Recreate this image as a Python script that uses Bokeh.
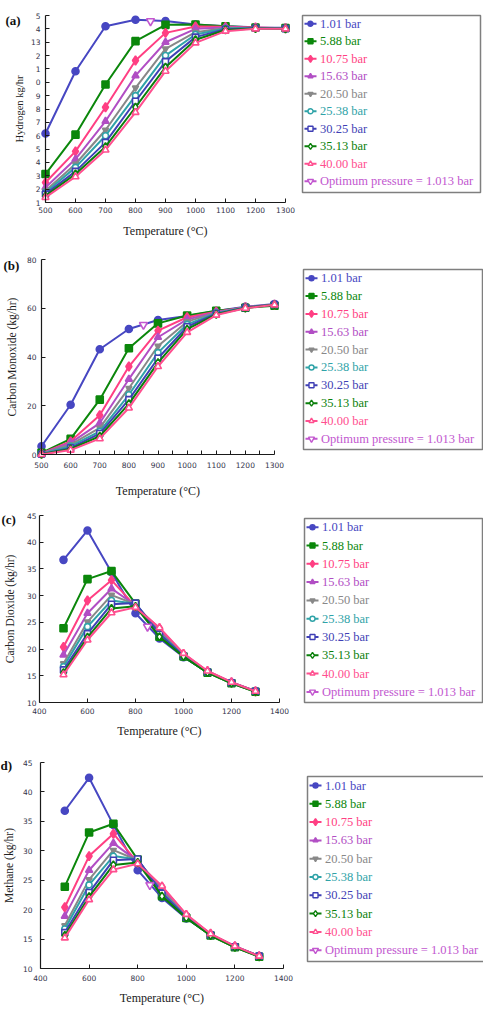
from bokeh.plotting import figure
from bokeh.models import Range1d, FixedTicker, ColumnDataSource
from bokeh.layouts import column, row
from bokeh.embed import file_html
from bokeh.resources import INLINE
from bokeh.core.properties import value

# ---------------------------------------------------------------- data
temps = [500, 600, 700, 800, 900, 1000, 1100, 1200, 1300]

pressure_labels = ["1.01 bar", "5.88 bar", "10.75 bar", "15.63 bar", "20.50 bar",
                   "25.38 bar", "30.25 bar", "35.13 bar", "40.00 bar"]
optimum_label = "Optimum pressure =  1.013 bar"
optimum_temp = 850

# hydrogen, kg/hr (one row per pressure)
hydrogen = [
    [6.17, 10.83, 14.20, 14.68, 14.58, 14.33, 14.20, 14.12, 14.08],
    [3.13, 6.08, 9.83, 13.08, 14.30, 14.33, 14.20, 14.10, 14.06],
    [2.50, 4.83, 8.13, 11.63, 13.70, 14.18, 14.15, 14.10, 14.05],
    [2.13, 4.25, 7.08, 10.50, 13.00, 14.00, 14.10, 14.08, 14.04],
    [1.88, 3.88, 6.43, 9.58, 12.50, 13.75, 14.06, 14.07, 14.03],
    [1.75, 3.63, 6.00, 9.00, 12.00, 13.58, 14.02, 14.06, 14.02],
    [1.63, 3.33, 5.50, 8.58, 11.55, 13.38, 13.97, 14.05, 14.02],
    [1.50, 3.13, 5.18, 8.13, 11.13, 13.18, 13.92, 14.03, 14.01],
    [1.38, 2.93, 4.93, 7.75, 10.83, 12.95, 13.83, 14.00, 14.00],
]
hydrogen_optimum = 14.58

# carbon monoxide, kg/hr
carbon_monoxide = [
    [3.4, 20.4, 43.2, 51.5, 55.2, 56.8, 58.9, 60.6, 61.7],
    [0.7, 6.4, 22.5, 43.6, 53.8, 57.0, 59.0, 60.2, 61.0],
    [0.4, 5.4, 16.1, 36.1, 50.8, 56.3, 58.6, 60.4, 61.5],
    [0.3, 4.8, 12.9, 30.9, 48.1, 55.4, 58.4, 60.4, 61.5],
    [0.2, 4.1, 10.9, 27.2, 44.5, 54.5, 58.2, 60.3, 61.5],
    [0.2, 3.4, 9.5, 24.5, 41.8, 53.4, 58.0, 60.3, 61.5],
    [0.1, 2.7, 8.6, 22.5, 39.5, 52.4, 57.8, 60.2, 61.5],
    [0.1, 2.3, 7.5, 20.8, 37.7, 51.4, 57.5, 60.1, 61.4],
    [0.0, 1.8, 6.5, 19.1, 36.1, 50.1, 57.2, 60.0, 61.4],
]
carbon_monoxide_optimum = 53.2

# carbon dioxide, kg/hr
carbon_dioxide = [
    [36.7, 42.2, 34.4, 26.7, 22.0, 18.5, 15.7, 13.7, 12.1],
    [23.9, 33.1, 34.6, 28.5, 22.3, 18.6, 15.6, 13.6, 12.0],
    [20.4, 29.1, 32.9, 28.0, 23.9, 19.1, 15.9, 13.8, 12.1],
    [18.9, 26.7, 31.3, 28.2, 23.5, 19.0, 15.8, 13.8, 12.1],
    [17.3, 25.1, 30.1, 28.4, 23.2, 18.9, 15.8, 13.7, 12.1],
    [16.7, 24.2, 29.1, 28.5, 22.9, 18.8, 15.7, 13.7, 12.1],
    [16.1, 22.9, 28.4, 28.6, 22.8, 18.7, 15.7, 13.7, 12.1],
    [15.6, 22.2, 27.6, 28.0, 22.3, 18.6, 15.6, 13.6, 12.0],
    [15.2, 21.7, 26.8, 27.8, 24.0, 19.2, 15.9, 13.8, 12.1],
]
carbon_dioxide_optimum = 24.2

# methane, kg/hr
methane = [
    [36.8, 42.4, 34.4, 26.7, 22.0, 18.5, 15.7, 13.7, 12.1],
    [23.9, 33.1, 34.6, 28.5, 22.3, 18.6, 15.6, 13.6, 12.0],
    [20.4, 29.1, 32.9, 28.0, 23.9, 19.1, 15.9, 13.8, 12.1],
    [18.9, 26.7, 31.3, 28.2, 23.5, 19.0, 15.8, 13.8, 12.1],
    [17.3, 25.1, 30.1, 28.4, 23.2, 18.9, 15.8, 13.7, 12.1],
    [16.7, 24.2, 29.1, 28.5, 22.9, 18.8, 15.7, 13.7, 12.1],
    [16.1, 22.9, 28.4, 28.6, 22.8, 18.7, 15.7, 13.7, 12.1],
    [15.6, 22.2, 27.6, 28.0, 22.3, 18.6, 15.6, 13.6, 12.0],
    [15.2, 21.7, 26.8, 27.8, 24.0, 19.2, 15.9, 13.8, 12.1],
]
methane_optimum = 24.2

# ---------------------------------------------------------------- styles
# (colour, marker, filled, size)
series_styles = [
    ("#4747c2", "circle", True, 7),
    ("#0b870b", "square", True, 7),
    ("#ff3f83", "diamond", True, 9),
    ("#b14ec4", "triangle", True, 7),
    ("#888888", "inverted_triangle", True, 6),
    ("#2fa3a8", "circle", False, 6),
    ("#3f3fb5", "square", False, 6),
    ("#0a7f0a", "diamond", False, 8),
    ("#ff4f8f", "triangle", False, 7),
]
optimum_style = ("#c257cf", "inverted_triangle", False, 8)

SERIF = "Liberation Serif, Times New Roman, serif"
SANS = "DejaVu Sans"
MAIN_W = 300
LEG_W = 183


def draw_series(p, xs, ys, style, line=True):
    color, marker, filled, size = style
    if line:
        p.line(xs, ys, line_color=color, line_width=2)
    p.scatter(xs, ys, marker=marker, size=size, line_color=color, line_width=1.6,
              fill_color=color if filled else "white")


def main_panel(h, series, optimum_y, xa, xb, pxa, pxb, ybot, ytop, py_top, py_bot,
               xticks, xminor, yticks, ytitle, ytitle_size, tag, tag_x, tag_y,
               x_lab_std, x_title_std, y_lab_std, y_title_std, yoverrides=None):
    # the plotting frame covers the whole figure; axes sit at fixed data positions
    sx = (pxb - pxa) / (xb - xa)
    sy = (py_bot - py_top) / (ytop - ybot)
    x0 = xa - pxa / sx
    x1 = xb + (MAIN_W - pxb) / sx
    y0 = ybot - (h - py_bot) / sy
    y1 = ytop + py_top / sy

    p = figure(width=MAIN_W, height=h, x_range=Range1d(x0, x1), y_range=Range1d(y0, y1),
               output_backend="svg", toolbar_location=None, min_border=0)
    p.outline_line_color = None
    p.grid.visible = False
    p.background_fill_color = "white"
    p.border_fill_color = "white"

    for ys, style in zip(series, series_styles):
        draw_series(p, temps, ys, style)
    draw_series(p, [optimum_temp], [optimum_y], optimum_style, line=False)

    xa_ = p.xaxis[0]
    xa_.fixed_location = ybot
    xa_.bounds = (xa, xb)
    xa_.ticker = FixedTicker(ticks=xticks, minor_ticks=xminor)
    xa_.axis_label = "Temperature (°C)"
    xa_.major_label_standoff = x_lab_std
    xa_.axis_label_standoff = x_title_std

    ya_ = p.yaxis[0]
    ya_.fixed_location = xa
    ya_.bounds = (ybot, ytop)
    ya_.ticker = FixedTicker(ticks=yticks)
    ya_.axis_label = ytitle
    ya_.major_label_standoff = y_lab_std
    ya_.axis_label_standoff = y_title_std
    if yoverrides:
        ya_.major_label_overrides = yoverrides

    for ax, tsize in ((xa_, "12px"), (ya_, ytitle_size)):
        ax.axis_line_color = "#1a1a1a"
        ax.axis_line_width = 1.2
        ax.major_tick_line_color = "#1a1a1a"
        ax.minor_tick_line_color = "#1a1a1a"
        ax.major_tick_in = 4
        ax.major_tick_out = 0
        ax.minor_tick_in = 4
        ax.minor_tick_out = 0
        ax.major_label_text_font = SANS
        ax.major_label_text_font_size = "7.5px"
        ax.major_label_text_color = "#33334a"
        ax.axis_label_text_font = SERIF
        ax.axis_label_text_font_style = "normal"
        ax.axis_label_text_font_size = tsize
        ax.axis_label_text_color = "#222222"

    # panel tag, positioned in data space left of the y axis
    tx = x0 + tag_x / sx
    ty = y1 - tag_y / sy
    p.text(x=[tx], y=[ty], text=[tag], text_font=value(SERIF), text_font_style="bold",
           text_font_size="13px", text_color="#111111", text_baseline="middle",
           text_align="left")
    return p


def legend_panel(h, bl, br, bt, bb, first, step):
    lp = figure(width=LEG_W, height=h, x_range=Range1d(0, LEG_W), y_range=Range1d(h, 0),
                output_backend="svg", toolbar_location=None,
                x_axis_location=None, y_axis_location=None, min_border=0)
    lp.outline_line_color = None
    lp.grid.visible = False
    lp.quad(left=[bl], right=[br], top=[bt], bottom=[bb], fill_color=None,
            line_color="#7f7f7f", line_width=1.5)
    styles = series_styles + [optimum_style]
    labels = pressure_labels + [optimum_label]
    ys = [first + i * step for i in range(len(labels))]
    for y, style in zip(ys, styles):
        color, marker, filled, size = style
        lp.segment(x0=[bl + 2], y0=[y], x1=[bl + 14], y1=[y], line_color=color, line_width=2)
        lp.scatter([bl + 8], [y], marker=marker, size=max(5, size - 2), line_color=color,
                   line_width=1.4, fill_color=color if filled else "white")
    src = ColumnDataSource(dict(x=[bl + 17.5] * len(labels), y=ys, text=labels,
                                color=[s[0] for s in styles]))
    lp.text(x="x", y="y", text="text", text_color="color", source=src,
            text_font=value(SERIF), text_font_size="12.5px", text_baseline="middle",
            text_align="left")
    return lp


# (a) hydrogen
h2_overrides = {15: "5", 14: "4", 13: "13", 12: "2", 11: "1", 10: "0"}
pa = main_panel(240, hydrogen, hydrogen_optimum, 500, 1300, 45, 285, 1, 15, 15, 202,
                list(range(500, 1301, 100)), [], list(range(1, 16)),
                "Hydrogen kg/hr", "10.5px", "(a)", 5, 20,
                4, 8, 5, 3, yoverrides=h2_overrides)
la = legend_panel(240, 2, 180, 15, 192, 23.3, 17.5)

# (b) carbon monoxide
pb = main_panel(260, carbon_monoxide, carbon_monoxide_optimum, 500, 1300, 41, 274, 0, 80, 19, 214,
                list(range(500, 1301, 100)), list(range(550, 1300, 100)), [0, 20, 40, 60, 80],
                "Carbon Monoxide (kg/hr)", "11.5px", "(b)", 3, 25,
                7, 13, 5, 6)
lb = legend_panel(260, 3, 182, 29, 209, 37.7, 17.85)

# (c) carbon dioxide
pc = main_panel(250, carbon_dioxide, carbon_dioxide_optimum, 400, 1400, 39, 279, 10, 45, 15, 202,
                list(range(400, 1401, 200)), [], list(range(10, 46, 5)),
                "Carbon Dioxide (kg/hr)", "11.5px", "(c)", 1, 19,
                5, 7, 3, 8)
lc = legend_panel(250, 4, 182, 18, 202, 26.7, 18.3)

# (d) methane
pd_ = main_panel(276, methane, methane_optimum, 400, 1400, 40, 283, 10, 45, 12, 218,
                 list(range(400, 1401, 200)), [], list(range(10, 46, 5)),
                 "Methane (kg/hr)", "11.5px", "d)", 0, 15,
                 6, 7, 8, 5)
ld = legend_panel(276, 7, 184, 26, 211, 35, 18.3)

layout = column(row(pa, la), row(pb, lb), row(pc, lc), row(pd_, ld))

open("out.html", "w").write(file_html(layout, INLINE))
